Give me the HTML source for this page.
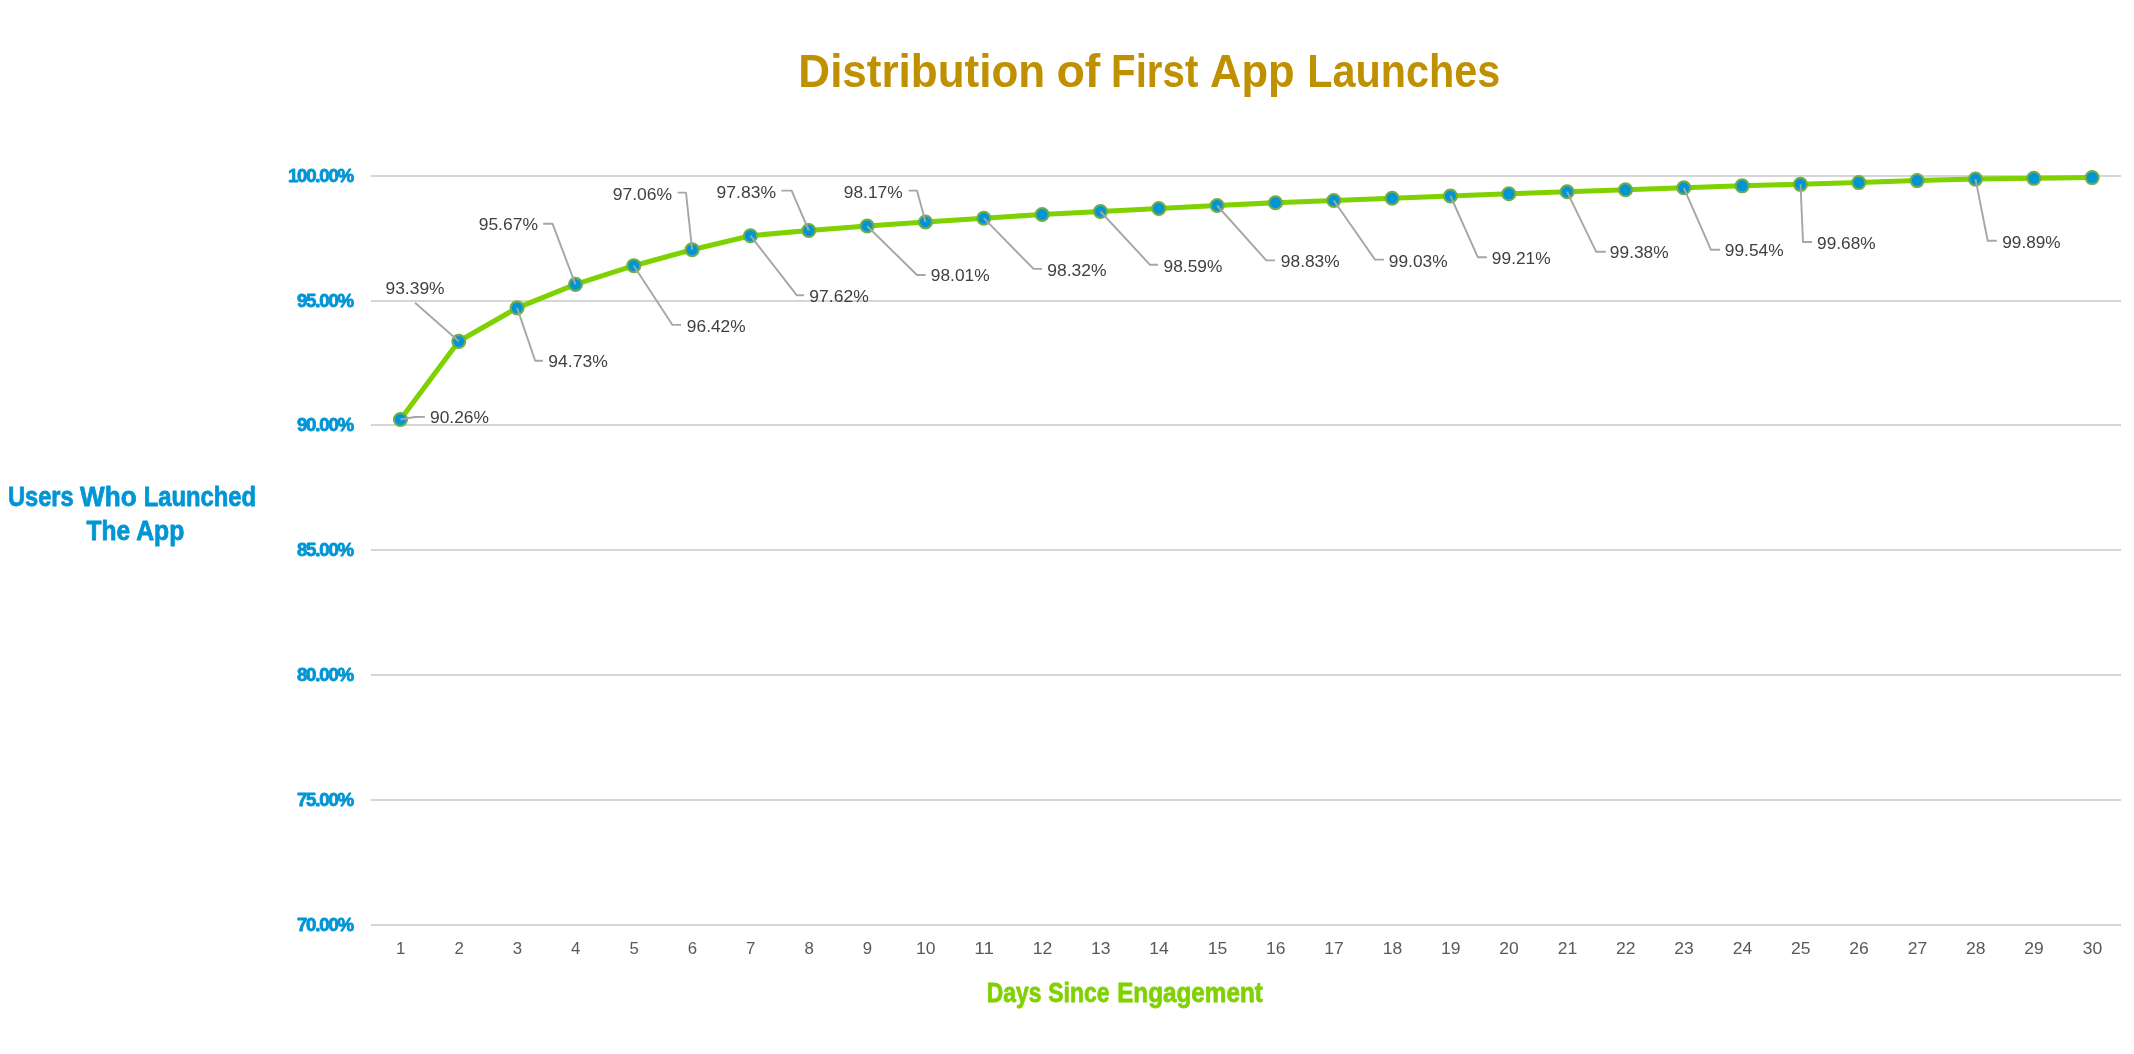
<!DOCTYPE html><html><head><meta charset="utf-8"><title>Distribution of First App Launches</title>
<style>html,body{margin:0;padding:0;background:#fff;}body{width:2134px;height:1054px;overflow:hidden;font-family:"Liberation Sans",sans-serif;}svg{display:block;will-change:transform;}text{font-family:"Liberation Sans",sans-serif;}</style></head><body>
<svg width="2134" height="1054" viewBox="0 0 2134 1054">
<rect width="100%" height="100%" fill="#ffffff"/>
<g stroke="#D6D6D6" stroke-width="2">
<line x1="371" y1="176.00" x2="2121" y2="176.00"/>
<line x1="371" y1="301.00" x2="2121" y2="301.00"/>
<line x1="371" y1="425.00" x2="2121" y2="425.00"/>
<line x1="371" y1="550.00" x2="2121" y2="550.00"/>
<line x1="371" y1="675.00" x2="2121" y2="675.00"/>
<line x1="371" y1="800.00" x2="2121" y2="800.00"/>
<line x1="371" y1="925.00" x2="2121" y2="925.00"/>
</g>
<g font-size="46" font-weight="bold" fill="#BF9000">
<text x="798.36" y="86.50" textLength="246.87" lengthAdjust="spacingAndGlyphs">Distribution</text>
<text x="1056.38" y="86.50" textLength="43.93" lengthAdjust="spacingAndGlyphs">of</text>
<text x="1111.11" y="86.50" textLength="87.18" lengthAdjust="spacingAndGlyphs">First</text>
<text x="1210.12" y="86.50" textLength="84.57" lengthAdjust="spacingAndGlyphs">App</text>
<text x="1307.23" y="86.50" textLength="192.96" lengthAdjust="spacingAndGlyphs">Launches</text>
</g>
<g font-size="28.3" font-weight="bold" fill="#0095D5" stroke="#0095D5" stroke-width="0.8" stroke-linejoin="round">
<text x="7.88" y="506.00" textLength="65.79" lengthAdjust="spacingAndGlyphs">Users</text>
<text x="80.07" y="506.00" textLength="56.55" lengthAdjust="spacingAndGlyphs">Who</text>
<text x="143.71" y="506.00" textLength="112.36" lengthAdjust="spacingAndGlyphs">Launched</text>
<text x="86.52" y="540.45" textLength="43.61" lengthAdjust="spacingAndGlyphs">The</text>
<text x="136.18" y="540.45" textLength="48.13" lengthAdjust="spacingAndGlyphs">App</text>
</g>
<g font-size="28.3" font-weight="bold" fill="#7FD100" stroke="#7FD100" stroke-width="0.8" stroke-linejoin="round">
<text x="986.77" y="1001.70" textLength="54.56" lengthAdjust="spacingAndGlyphs">Days</text>
<text x="1048.24" y="1001.70" textLength="61.14" lengthAdjust="spacingAndGlyphs">Since</text>
<text x="1117.18" y="1001.70" textLength="145.62" lengthAdjust="spacingAndGlyphs">Engagement</text>
</g>
<g font-size="18.7" font-weight="bold" fill="#0095D5" stroke="#0095D5" stroke-width="0.8" stroke-linejoin="round">
<text x="287.9" y="181.70" textLength="66.3" lengthAdjust="spacing">100.00%</text>
<text x="296.9" y="306.70" textLength="57.3" lengthAdjust="spacing">95.00%</text>
<text x="296.9" y="430.70" textLength="57.3" lengthAdjust="spacing">90.00%</text>
<text x="296.9" y="555.70" textLength="57.3" lengthAdjust="spacing">85.00%</text>
<text x="296.9" y="680.70" textLength="57.3" lengthAdjust="spacing">80.00%</text>
<text x="296.9" y="805.70" textLength="57.3" lengthAdjust="spacing">75.00%</text>
<text x="296.9" y="930.70" textLength="57.3" lengthAdjust="spacing">70.00%</text>
</g>
<g font-size="16.8" fill="#595959" text-anchor="middle">
<text x="400.77" y="954.1">1</text>
<text x="459.10" y="954.1">2</text>
<text x="517.43" y="954.1">3</text>
<text x="575.77" y="954.1">4</text>
<text x="634.10" y="954.1">5</text>
<text x="692.43" y="954.1">6</text>
<text x="750.77" y="954.1">7</text>
<text x="809.10" y="954.1">8</text>
<text x="867.43" y="954.1">9</text>
<text x="925.77" y="954.1" textLength="19.5" lengthAdjust="spacingAndGlyphs">10</text>
<text x="984.10" y="954.1" textLength="19.5" lengthAdjust="spacingAndGlyphs">11</text>
<text x="1042.43" y="954.1" textLength="19.5" lengthAdjust="spacingAndGlyphs">12</text>
<text x="1100.77" y="954.1" textLength="19.5" lengthAdjust="spacingAndGlyphs">13</text>
<text x="1159.10" y="954.1" textLength="19.5" lengthAdjust="spacingAndGlyphs">14</text>
<text x="1217.43" y="954.1" textLength="19.5" lengthAdjust="spacingAndGlyphs">15</text>
<text x="1275.77" y="954.1" textLength="19.5" lengthAdjust="spacingAndGlyphs">16</text>
<text x="1334.10" y="954.1" textLength="19.5" lengthAdjust="spacingAndGlyphs">17</text>
<text x="1392.43" y="954.1" textLength="19.5" lengthAdjust="spacingAndGlyphs">18</text>
<text x="1450.77" y="954.1" textLength="19.5" lengthAdjust="spacingAndGlyphs">19</text>
<text x="1509.10" y="954.1" textLength="19.5" lengthAdjust="spacingAndGlyphs">20</text>
<text x="1567.43" y="954.1" textLength="19.5" lengthAdjust="spacingAndGlyphs">21</text>
<text x="1625.77" y="954.1" textLength="19.5" lengthAdjust="spacingAndGlyphs">22</text>
<text x="1684.10" y="954.1" textLength="19.5" lengthAdjust="spacingAndGlyphs">23</text>
<text x="1742.43" y="954.1" textLength="19.5" lengthAdjust="spacingAndGlyphs">24</text>
<text x="1800.77" y="954.1" textLength="19.5" lengthAdjust="spacingAndGlyphs">25</text>
<text x="1859.10" y="954.1" textLength="19.5" lengthAdjust="spacingAndGlyphs">26</text>
<text x="1917.43" y="954.1" textLength="19.5" lengthAdjust="spacingAndGlyphs">27</text>
<text x="1975.77" y="954.1" textLength="19.5" lengthAdjust="spacingAndGlyphs">28</text>
<text x="2034.10" y="954.1" textLength="19.5" lengthAdjust="spacingAndGlyphs">29</text>
<text x="2092.43" y="954.1" textLength="19.5" lengthAdjust="spacingAndGlyphs">30</text>
</g>
<g fill="none" stroke="#A6A6A6" stroke-width="1.9" stroke-linejoin="round">
<polyline points="400.5,419.5 414.8,417.0 424.9,416.9"/>
<polyline points="458.8,341.3 415.0,302.7"/>
<polyline points="517.1,307.9 535.2,360.8 543.0,360.8"/>
<polyline points="575.5,284.4 552.5,223.7 543.2,223.7"/>
<polyline points="633.8,265.7 672.5,324.9 681.0,324.9"/>
<polyline points="692.1,249.7 686.0,192.6 677.6,192.6"/>
<polyline points="750.5,235.7 796.7,295.2 804.0,295.2"/>
<polyline points="808.8,230.5 791.6,190.6 781.5,190.6"/>
<polyline points="867.1,226.0 917.0,275.0 925.6,275.0"/>
<polyline points="925.5,222.0 917.0,190.6 908.7,190.6"/>
<polyline points="983.8,218.2 1033.5,268.9 1042.0,268.9"/>
<polyline points="1100.5,211.5 1150.0,264.8 1158.0,264.8"/>
<polyline points="1217.1,205.5 1266.3,260.4 1275.0,260.4"/>
<polyline points="1333.8,200.5 1375.0,259.6 1384.0,259.6"/>
<polyline points="1450.5,196.0 1477.8,257.2 1486.8,257.2"/>
<polyline points="1567.1,191.8 1596.2,251.8 1605.8,251.8"/>
<polyline points="1683.8,187.8 1711.0,249.8 1719.9,249.8"/>
<polyline points="1800.5,184.3 1803.0,242.0 1812.0,242.0"/>
<polyline points="1975.5,179.0 1987.7,240.8 1996.8,240.8"/>
</g>
<polyline points="400.47,419.47 458.80,341.33 517.13,307.87 575.47,284.40 633.80,265.68 692.13,249.70 750.47,235.72 808.80,230.48 867.13,225.98 925.47,221.99 983.80,218.24 1042.13,214.50 1100.47,211.50 1158.80,208.51 1217.13,205.51 1275.47,202.76 1333.80,200.52 1392.13,198.27 1450.47,196.02 1508.80,193.78 1567.13,191.78 1625.47,189.78 1683.80,187.78 1742.13,185.79 1800.47,184.29 1858.80,182.54 1917.13,180.54 1975.47,179.05 2033.80,178.30 2092.13,177.55" fill="none" stroke="#7FD100" stroke-width="5.1" stroke-linejoin="round" stroke-linecap="round"/>
<g fill="#0095D5" stroke="#70AD47" stroke-width="2.1">
<circle cx="400.47" cy="419.47" r="6.5"/>
<circle cx="458.80" cy="341.33" r="6.5"/>
<circle cx="517.13" cy="307.87" r="6.5"/>
<circle cx="575.47" cy="284.40" r="6.5"/>
<circle cx="633.80" cy="265.68" r="6.5"/>
<circle cx="692.13" cy="249.70" r="6.5"/>
<circle cx="750.47" cy="235.72" r="6.5"/>
<circle cx="808.80" cy="230.48" r="6.5"/>
<circle cx="867.13" cy="225.98" r="6.5"/>
<circle cx="925.47" cy="221.99" r="6.5"/>
<circle cx="983.80" cy="218.24" r="6.5"/>
<circle cx="1042.13" cy="214.50" r="6.5"/>
<circle cx="1100.47" cy="211.50" r="6.5"/>
<circle cx="1158.80" cy="208.51" r="6.5"/>
<circle cx="1217.13" cy="205.51" r="6.5"/>
<circle cx="1275.47" cy="202.76" r="6.5"/>
<circle cx="1333.80" cy="200.52" r="6.5"/>
<circle cx="1392.13" cy="198.27" r="6.5"/>
<circle cx="1450.47" cy="196.02" r="6.5"/>
<circle cx="1508.80" cy="193.78" r="6.5"/>
<circle cx="1567.13" cy="191.78" r="6.5"/>
<circle cx="1625.47" cy="189.78" r="6.5"/>
<circle cx="1683.80" cy="187.78" r="6.5"/>
<circle cx="1742.13" cy="185.79" r="6.5"/>
<circle cx="1800.47" cy="184.29" r="6.5"/>
<circle cx="1858.80" cy="182.54" r="6.5"/>
<circle cx="1917.13" cy="180.54" r="6.5"/>
<circle cx="1975.47" cy="179.05" r="6.5"/>
<circle cx="2033.80" cy="178.30" r="6.5"/>
<circle cx="2092.13" cy="177.55" r="6.5"/>
</g>
<g fill="none" stroke="#A6A6A6" stroke-width="1.9">
<line x1="400.5" y1="419.5" x2="408.4" y2="418.1"/>
<line x1="458.8" y1="341.3" x2="452.8" y2="336.0"/>
<line x1="517.1" y1="307.9" x2="519.7" y2="315.4"/>
<line x1="575.5" y1="284.4" x2="572.6" y2="276.9"/>
<line x1="633.8" y1="265.7" x2="638.2" y2="272.4"/>
<line x1="692.1" y1="249.7" x2="691.3" y2="241.7"/>
<line x1="750.5" y1="235.7" x2="755.4" y2="242.0"/>
<line x1="808.8" y1="230.5" x2="805.6" y2="223.1"/>
<line x1="867.1" y1="226.0" x2="872.8" y2="231.6"/>
<line x1="925.5" y1="222.0" x2="923.4" y2="214.3"/>
<line x1="983.8" y1="218.2" x2="989.4" y2="224.0"/>
<line x1="1100.5" y1="211.5" x2="1105.9" y2="217.4"/>
<line x1="1217.1" y1="205.5" x2="1222.5" y2="211.5"/>
<line x1="1333.8" y1="200.5" x2="1338.4" y2="207.1"/>
<line x1="1450.5" y1="196.0" x2="1453.7" y2="203.3"/>
<line x1="1567.1" y1="191.8" x2="1570.6" y2="199.0"/>
<line x1="1683.8" y1="187.8" x2="1687.0" y2="195.1"/>
<line x1="1800.5" y1="184.3" x2="1800.8" y2="192.3"/>
<line x1="1975.5" y1="179.0" x2="1977.0" y2="186.9"/>
</g>
<g font-size="16.6" fill="#404040">
<text x="429.99" y="422.90" textLength="58.93" lengthAdjust="spacingAndGlyphs">90.26%</text>
<text x="385.48" y="293.90" textLength="59.14" lengthAdjust="spacingAndGlyphs">93.39%</text>
<text x="548.38" y="366.70" textLength="59.45" lengthAdjust="spacingAndGlyphs">94.73%</text>
<text x="478.68" y="229.90" textLength="59.24" lengthAdjust="spacingAndGlyphs">95.67%</text>
<text x="686.89" y="332.10" textLength="58.73" lengthAdjust="spacingAndGlyphs">96.42%</text>
<text x="612.68" y="199.90" textLength="59.45" lengthAdjust="spacingAndGlyphs">97.06%</text>
<text x="809.38" y="302.10" textLength="59.45" lengthAdjust="spacingAndGlyphs">97.62%</text>
<text x="716.58" y="198.20" textLength="59.45" lengthAdjust="spacingAndGlyphs">97.83%</text>
<text x="930.79" y="280.90" textLength="58.83" lengthAdjust="spacingAndGlyphs">98.01%</text>
<text x="843.79" y="198.20" textLength="58.83" lengthAdjust="spacingAndGlyphs">98.17%</text>
<text x="1047.18" y="275.90" textLength="59.45" lengthAdjust="spacingAndGlyphs">98.32%</text>
<text x="1163.59" y="271.70" textLength="58.83" lengthAdjust="spacingAndGlyphs">98.59%</text>
<text x="1280.89" y="267.40" textLength="58.73" lengthAdjust="spacingAndGlyphs">98.83%</text>
<text x="1388.79" y="267.00" textLength="58.83" lengthAdjust="spacingAndGlyphs">99.03%</text>
<text x="1491.89" y="263.90" textLength="58.73" lengthAdjust="spacingAndGlyphs">99.21%</text>
<text x="1609.89" y="258.10" textLength="58.73" lengthAdjust="spacingAndGlyphs">99.38%</text>
<text x="1724.79" y="256.10" textLength="58.83" lengthAdjust="spacingAndGlyphs">99.54%</text>
<text x="1817.09" y="249.10" textLength="58.52" lengthAdjust="spacingAndGlyphs">99.68%</text>
<text x="2002.29" y="247.90" textLength="58.32" lengthAdjust="spacingAndGlyphs">99.89%</text>
</g>
</svg></body></html>
